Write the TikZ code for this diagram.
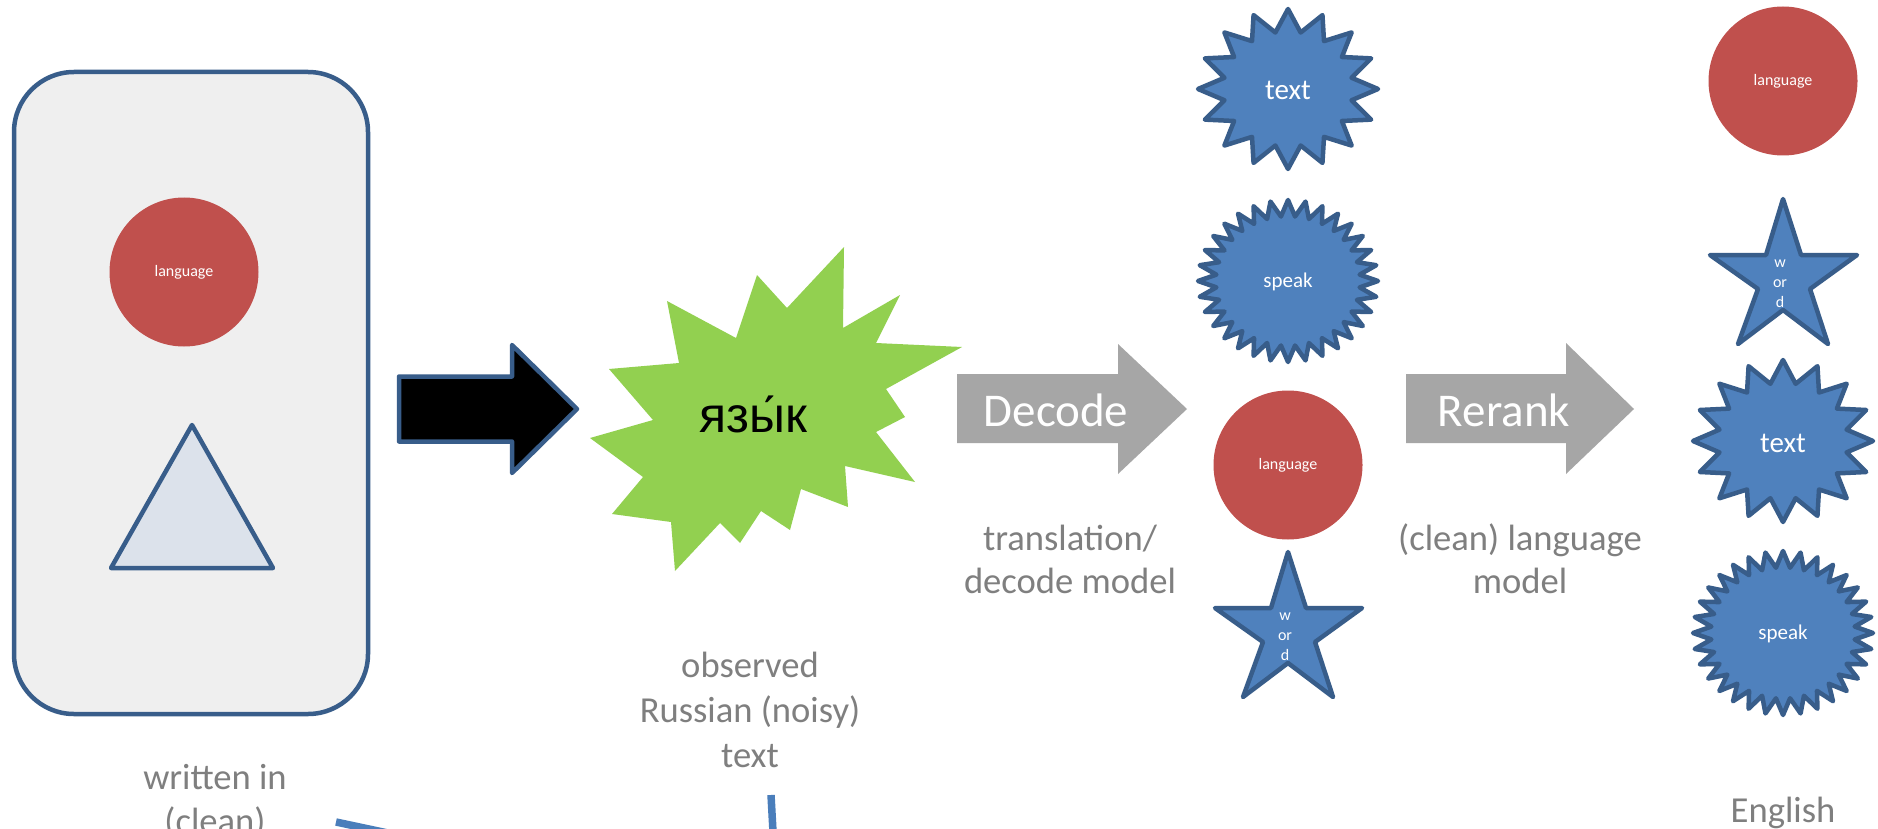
\documentclass[tikz,border=0pt]{standalone}
\usepackage{fontspec}
\setmainfont{Carlito}
\newfontfamily\rusfont{Liberation Sans}

\definecolor{edgeblue}{HTML}{385D8A}
\definecolor{starblue}{HTML}{4F81BD}
\definecolor{ballred}{HTML}{C0504D}
\definecolor{burstgreen}{HTML}{92D050}
\definecolor{arrowgray}{HTML}{A6A6A6}
\definecolor{labelgray}{HTML}{7F7F7F}
\definecolor{panelgray}{HTML}{EFEFEF}
\definecolor{triblue}{HTML}{DCE2EB}
\definecolor{linkblue}{HTML}{4A7EBB}

\tikzset{
  shapeline/.style={draw=edgeblue, line width=4.5pt, line join=round},
  bluestar/.style={shapeline, fill=starblue},
  redball/.style={circle, fill=ballred, minimum size=149pt, inner sep=0pt,
    text=white, font=\fontsize{16}{19}\selectfont},
  startext/.style={text=white, inner sep=0pt, anchor=base},
  arrowtext/.style={text=white, inner sep=0pt, anchor=base,
    font=\fontsize{47}{56}\selectfont},
  lbl/.style={text=labelgray, align=center, inner sep=0pt, anchor=base},
  link/.style={draw=linkblue, line width=7.5pt},
}

% many-pointed star centred at (#2,#3): #4 points, radii #5/#6, inner ratio #7
\newcommand\burst[7]{%
  \pgfmathtruncatemacro\burstlast{2*#4-1}%
  \draw[#1] (#2,#3-#6) \foreach \k in {1,...,\burstlast} {
    -- ({#2+#5*(1-(1-#7)*mod(\k,2))*cos(90+\k*180/#4)},
        {#3-#6*(1-(1-#7)*mod(\k,2))*sin(90+\k*180/#4)})
  } -- cycle;}

% five-pointed "word" star, shifted by (#1,#2), label node named #3
\newcommand\wordstar[3]{%
  \begin{scope}[shift={(#1,#2)}]
    \draw[bluestar] (1288,552) -- (1306,608) -- (1362,608) -- (1315,642)
      -- (1333,697) -- (1288,663) -- (1243,697) -- (1263,642)
      -- (1215,608) -- (1271,608) -- cycle;
    \node[text=white, inner sep=0pt, align=center,
      font=\fontsize{16}{20}\selectfont] (#3) at (1285,637) {w\\or\\d};
  \end{scope}}

\begin{document}
\begin{tikzpicture}[x=1pt, y=-1pt]
  \clip (0,0) rectangle (1878,829);
  \fill[white] (0,0) rectangle (1878,829);

  % clean source panel
  \draw[shapeline, fill=panelgray, rounded corners=60pt] (14,72) rectangle (368,714);
  \node[redball] (srclang) at (184,272) {language};
  \draw[shapeline, fill=triblue] (192,425) -- (273,568) -- (111,568) -- cycle;

  % noisy channel arrow
  \draw[shapeline, fill=black] (399,376.5) -- (512,376.5) -- (512,345) -- (577,409)
    -- (512,473) -- (512,441.5) -- (399,441.5) -- cycle;

  % observed Russian word
  \fill[burstgreen] (844,247) -- (843,328) -- (900,295) -- (876,343) -- (962,347)
    -- (886,389) -- (905,417) -- (876,432) -- (915,482) -- (845,466) -- (848,507)
    -- (801,489) -- (790,530) -- (761,511) -- (740,543) -- (720,523) -- (675,571)
    -- (671,522) -- (612,514) -- (643,477) -- (590,438) -- (653,420) -- (609,369)
    -- (679,363) -- (667,301) -- (736,338) -- (757,275) -- (787,308) -- cycle;
  \node[anchor=base, inner sep=0pt, font=\rusfont\fontsize{50}{60}\selectfont]
    (noisy) at (753,432) {язы́к};

  % decode arrow
  \fill[arrowgray] (957,374) -- (1118,374) -- (1118,344) -- (1187,409)
    -- (1118,474) -- (1118,443) -- (957,443) -- cycle;
  \node[arrowtext] (decode) at (1056,426) {Decode};

  % candidate translations
  \burst{bluestar}{1288}{89}{16}{90}{80}{0.72}
  \node[startext, font=\fontsize{29}{34}\selectfont] (candtext) at (1288,100) {text};
  \burst{bluestar}{1288}{281}{32}{90}{81}{0.8}
  \node[startext, font=\fontsize{21}{25}\selectfont] (candspeak) at (1288,287) {speak};
  \node[redball] (candlang) at (1288,465) {language};
  \wordstar{0}{0}{candword}

  % rerank arrow
  \fill[arrowgray] (1406,374) -- (1566,374) -- (1566,343) -- (1634,409)
    -- (1566,474) -- (1566,443) -- (1406,443) -- cycle;
  \node[arrowtext] (rerank) at (1504,426) {Rerank};

  % reranked English output
  \node[redball] (outlang) at (1783,81) {language};
  \wordstar{495}{-353}{outword}
  \burst{bluestar}{1783}{441}{16}{90}{81}{0.72}
  \node[startext, font=\fontsize{29}{34}\selectfont] (outtext) at (1783,452) {text};
  \burst{bluestar}{1783}{633}{32}{90}{82}{0.8}
  \node[startext, font=\fontsize{21}{25}\selectfont] (outspeak) at (1783,639) {speak};

  % captions (base anchor sits on the last line)
  \node[lbl, font=\fontsize{36.6}{45}\selectfont] (caprus) at (750,767)
    {observed\\Russian (noisy)\\text};
  \node[lbl, font=\fontsize{36.6}{43}\selectfont] (capdec) at (1070,593)
    {translation/\\decode model};
  \node[lbl, font=\fontsize{36.6}{43}\selectfont] (caplm) at (1520,593)
    {(clean) language\\model};
  \node[lbl, font=\fontsize{36.6}{44}\selectfont] (capsrc) at (215,833)
    {written in\\(clean)};
  \node[lbl, font=\fontsize{36.6}{43}\selectfont] (capen) at (1783,822) {English};

  % links leaving the lower edge
  \coordinate (linkAstart) at (336,822);
  \coordinate (linkAend) at (430,842);
  \draw[link] (linkAstart) -- (linkAend);
  \coordinate (linkBstart) at (771,795);
  \coordinate (linkBend) at (774,850);
  \draw[link] (linkBstart) -- (linkBend);
\end{tikzpicture}
\end{document}
